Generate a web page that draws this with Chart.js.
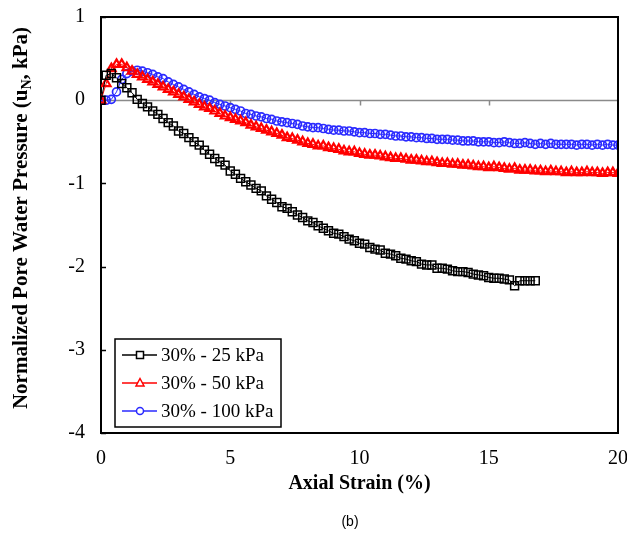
<!DOCTYPE html>
<html>
<head>
<meta charset="utf-8">
<script src="https://cdn.jsdelivr.net/npm/chart.js@4/dist/chart.umd.min.js"></script>
<style>
  html, body { margin: 0; padding: 0; background: #fff; overflow: hidden; }
  #wrap { position: relative; width: 627px; height: 536px; }
</style>
</head>
<body>
<div id="wrap"><canvas id="pwpChart" width="627" height="536"></canvas></div>
<script>
// Axial strain (%) readings, shared by all three tests (25 kPa stops at 16.8 %)
const strain = [
  0, 0.2, 0.4, 0.6, 0.8, 1, 1.2, 1.4, 1.6, 1.8,
  2, 2.2, 2.4, 2.6, 2.8, 3, 3.2, 3.4, 3.6, 3.8,
  4, 4.2, 4.4, 4.6, 4.8, 5, 5.2, 5.4, 5.6, 5.8,
  6, 6.2, 6.4, 6.6, 6.8, 7, 7.2, 7.4, 7.6, 7.8,
  8, 8.2, 8.4, 8.6, 8.8, 9, 9.2, 9.4, 9.6, 9.8,
  10, 10.2, 10.4, 10.6, 10.8, 11, 11.2, 11.4, 11.6, 11.8,
  12, 12.2, 12.4, 12.6, 12.8, 13, 13.2, 13.4, 13.6, 13.8,
  14, 14.2, 14.4, 14.6, 14.8, 15, 15.2, 15.4, 15.6, 15.8,
  16, 16.2, 16.4, 16.6, 16.8, 17, 17.2, 17.4, 17.6, 17.8,
  18, 18.2, 18.4, 18.6, 18.8, 19, 19.2, 19.4, 19.6, 19.8,
  20
];

// normalized pore water pressure, 25 kPa confinement
const pwp25 = [
  0, 0.30, 0.32, 0.27, 0.20, 0.15, 0.09, 0.01, -0.04, -0.08,
  -0.13, -0.17, -0.22, -0.27, -0.31, -0.37, -0.40, -0.45, -0.50, -0.54,
  -0.60, -0.65, -0.70, -0.74, -0.78, -0.85, -0.89, -0.94, -0.98, -1.02,
  -1.06, -1.09, -1.15, -1.19, -1.23, -1.28, -1.30, -1.34, -1.38, -1.41,
  -1.45, -1.47, -1.51, -1.54, -1.57, -1.60, -1.61, -1.64, -1.67, -1.69,
  -1.72, -1.73, -1.77, -1.79, -1.80, -1.84, -1.85, -1.87, -1.90, -1.91,
  -1.93, -1.94, -1.97, -1.98, -1.98, -2.02, -2.02, -2.03, -2.05, -2.06,
  -2.06, -2.07, -2.09, -2.10, -2.11, -2.13, -2.14, -2.14, -2.15, -2.16,
  -2.23, -2.17, -2.17, -2.17, -2.17
];

// normalized pore water pressure, 50 kPa confinement
const pwp50 = [
  0, 0.20, 0.38, 0.43, 0.43, 0.39, 0.35, 0.31, 0.28, 0.25,
  0.22, 0.19, 0.16, 0.13, 0.10, 0.07, 0.04, 0.01, -0.02, -0.05,
  -0.08, -0.10, -0.13, -0.16, -0.19, -0.21, -0.23, -0.25, -0.27, -0.30,
  -0.32, -0.34, -0.36, -0.38, -0.40, -0.42, -0.45, -0.46, -0.48, -0.50,
  -0.52, -0.53, -0.55, -0.55, -0.57, -0.58, -0.59, -0.61, -0.62, -0.62,
  -0.64, -0.65, -0.66, -0.66, -0.67, -0.68, -0.69, -0.70, -0.70, -0.71,
  -0.72, -0.72, -0.73, -0.74, -0.74, -0.75, -0.76, -0.76, -0.77, -0.77,
  -0.78, -0.78, -0.79, -0.80, -0.80, -0.81, -0.80, -0.81, -0.82, -0.83,
  -0.82, -0.84, -0.84, -0.84, -0.85, -0.85, -0.86, -0.85, -0.86, -0.86,
  -0.87, -0.86, -0.87, -0.87, -0.86, -0.87, -0.87, -0.88, -0.87, -0.87,
  -0.88
];

// normalized pore water pressure, 100 kPa confinement
const pwp100 = [
  0, 0, 0.01, 0.10, 0.25, 0.32, 0.35, 0.36, 0.35, 0.33,
  0.31, 0.28, 0.26, 0.22, 0.19, 0.16, 0.13, 0.10, 0.07, 0.04,
  0.02, 0.00, -0.03, -0.05, -0.07, -0.09, -0.11, -0.13, -0.16, -0.17,
  -0.19, -0.20, -0.22, -0.23, -0.25, -0.26, -0.27, -0.28, -0.29, -0.31,
  -0.32, -0.33, -0.33, -0.34, -0.35, -0.36, -0.36, -0.37, -0.37, -0.38,
  -0.39, -0.39, -0.40, -0.40, -0.41, -0.41, -0.42, -0.43, -0.43, -0.44,
  -0.44, -0.45, -0.45, -0.46, -0.46, -0.47, -0.47, -0.47, -0.48, -0.48,
  -0.49, -0.49, -0.49, -0.50, -0.50, -0.50, -0.51, -0.51, -0.50, -0.51,
  -0.52, -0.52, -0.51, -0.52, -0.53, -0.52, -0.53, -0.52, -0.53, -0.53,
  -0.53, -0.53, -0.54, -0.53, -0.53, -0.54, -0.53, -0.54, -0.53, -0.54,
  -0.54
];

const seriesLabels = ['30% - 25 kPa', '30% - 50 kPa', '30% - 100 kPa'];
const xTicks = [0, 5, 10, 15, 20];
const yTicks = [1, 0, -1, -2, -3, -4];

const SERIF = '"Liberation Serif", "Times New Roman", serif';

function toPoints(xs, ys) {
  return ys.map((y, i) => ({ x: xs[i], y: y }));
}

// small marker drawer used by the in-plot legend
function drawMarker(ctx, style, x, y, color) {
  ctx.save();
  ctx.strokeStyle = color;
  ctx.fillStyle = '#fff';
  ctx.lineWidth = 1.5;
  ctx.beginPath();
  if (style === 'rect') {
    ctx.rect(x - 3.5, y - 3.5, 7, 7);
  } else if (style === 'triangle') {
    ctx.moveTo(x, y - 4.5);
    ctx.lineTo(x + 4, y + 3);
    ctx.lineTo(x - 4, y + 3);
    ctx.closePath();
  } else {
    ctx.arc(x, y, 3.5, 0, Math.PI * 2);
  }
  ctx.fill();
  ctx.stroke();
  ctx.restore();
}

// frame, zero line, inside ticks, y title with subscript, legend and panel label
const decorations = {
  id: 'decorations',
  beforeDatasetsDraw(chart) {
    const { ctx, chartArea: a, scales: { x, y } } = chart;
    ctx.save();
    // grey zero line with ticks hanging down
    const y0 = Math.round(y.getPixelForValue(0)) + 0.5;
    ctx.strokeStyle = '#8a8a8a';
    ctx.lineWidth = 1.5;
    ctx.beginPath();
    ctx.moveTo(a.left, y0);
    ctx.lineTo(a.right, y0);
    xTicks.slice(1, -1).forEach(v => {
      const px = Math.round(x.getPixelForValue(v)) + 0.5;
      ctx.moveTo(px, y0);
      ctx.lineTo(px, y0 + 5);
    });
    ctx.stroke();
    ctx.restore();
  },
  afterDraw(chart) {
    const { ctx, chartArea: a, scales: { y } } = chart;
    ctx.save();
    // top and right frame
    ctx.strokeStyle = '#000';
    ctx.lineWidth = 2;
    ctx.beginPath();
    ctx.moveTo(a.left, a.top);
    ctx.lineTo(a.right, a.top);
    ctx.lineTo(a.right, a.bottom);
    ctx.stroke();
    // left axis ticks pointing inward
    ctx.lineWidth = 1.5;
    ctx.beginPath();
    yTicks.forEach(v => {
      if (v === 0) return;
      const py = Math.round(y.getPixelForValue(v)) + 0.5;
      ctx.moveTo(a.left, py);
      ctx.lineTo(a.left + 5, py);
    });
    ctx.stroke();

    // y axis title, u with subscript N
    const big = 'bold 21px ' + SERIF;
    const small = 'bold 14px ' + SERIF;
    const parts = [
      { t: 'Normalized Pore Water Pressure (u', f: big, dy: 0 },
      { t: 'N', f: small, dy: 4 },
      { t: ', kPa)', f: big, dy: 0 }
    ];
    let total = 0;
    parts.forEach(p => { ctx.font = p.f; p.w = ctx.measureText(p.t).width; total += p.w; });
    ctx.translate(27, 218);
    ctx.rotate(-Math.PI / 2);
    ctx.fillStyle = '#000';
    ctx.textBaseline = 'alphabetic';
    let cx = -total / 2;
    parts.forEach(p => {
      ctx.font = p.f;
      ctx.fillText(p.t, cx, p.dy);
      cx += p.w;
    });
    ctx.setTransform(1, 0, 0, 1, 0, 0);

    // legend box inside the plot
    const lx = 115, ly = 339, lw = 166, lh = 88;
    ctx.fillStyle = '#fff';
    ctx.fillRect(lx, ly, lw, lh);
    ctx.strokeStyle = '#000';
    ctx.lineWidth = 1.5;
    ctx.strokeRect(lx, ly, lw, lh);
    ctx.font = '19px ' + SERIF;
    ctx.textBaseline = 'middle';
    chart.data.datasets.forEach((ds, i) => {
      const ry = ly + 16 + i * 28;
      ctx.strokeStyle = ds.borderColor;
      ctx.lineWidth = 1.5;
      ctx.beginPath();
      ctx.moveTo(lx + 7, ry);
      ctx.lineTo(lx + 42, ry);
      ctx.stroke();
      drawMarker(ctx, ds.pointStyle, lx + 25, ry, ds.borderColor);
      ctx.fillStyle = '#000';
      ctx.fillText(ds.label, lx + 46, ry + 1);
    });

    // panel label
    ctx.font = '14px "Liberation Sans", Arial, sans-serif';
    ctx.textAlign = 'center';
    ctx.fillText('(b)', 350, 522);
    ctx.restore();
  }
};

new Chart(document.getElementById('pwpChart'), {
  type: 'scatter',
  data: {
    datasets: [
      {
        label: seriesLabels[0],
        data: toPoints(strain, pwp25),
        showLine: true,
        borderColor: '#000000',
        borderWidth: 1,
        pointStyle: 'rect',
        pointRadius: 5.6,
        pointBorderWidth: 1.5,
        pointBackgroundColor: 'rgba(255,255,255,0)'
      },
      {
        label: seriesLabels[1],
        data: toPoints(strain, pwp50),
        showLine: true,
        borderColor: '#ff0000',
        borderWidth: 1,
        pointStyle: 'triangle',
        pointRadius: 5,
        pointBorderWidth: 2.2,
        pointBackgroundColor: 'rgba(255,255,255,0)'
      },
      {
        label: seriesLabels[2],
        data: toPoints(strain, pwp100),
        showLine: true,
        borderColor: '#2a2aff',
        borderWidth: 1,
        pointStyle: 'circle',
        pointRadius: 4,
        pointBorderWidth: 1.7,
        pointBackgroundColor: 'rgba(255,255,255,0)'
      }
    ]
  },
  options: {
    responsive: false,
    animation: false,
    layout: { autoPadding: false, padding: { top: 17, right: 9, left: 0, bottom: 0 } },
    plugins: {
      legend: { display: false },
      tooltip: { enabled: false }
    },
    scales: {
      x: {
        type: 'linear',
        min: 0,
        max: 20,
        afterFit(scale) {
          scale.height = 103;
          scale.paddingLeft = 0;
          scale.paddingRight = 0;
        },
        afterBuildTicks(scale) { scale.ticks = xTicks.map(v => ({ value: v })); },
        grid: { display: false, drawTicks: false },
        border: { display: true, color: '#000', width: 2 },
        ticks: { font: { family: SERIF, size: 20 }, color: '#000', padding: 14, maxRotation: 0 },
        title: {
          display: true,
          text: 'Axial Strain (%)',
          font: { family: SERIF, size: 20, weight: 'bold' },
          color: '#000',
          padding: { top: 0, bottom: 40 }
        }
      },
      y: {
        type: 'linear',
        min: -4,
        max: 1,
        afterFit(scale) {
          scale.width = 101;
          scale.paddingTop = 0;
          scale.paddingBottom = 0;
        },
        afterBuildTicks(scale) { scale.ticks = yTicks.map(v => ({ value: v })); },
        grid: { display: false, drawTicks: false },
        border: { display: true, color: '#000', width: 2 },
        ticks: { font: { family: SERIF, size: 20 }, color: '#000', padding: 16 }
      }
    }
  },
  plugins: [decorations]
});
</script>
</body>
</html>
